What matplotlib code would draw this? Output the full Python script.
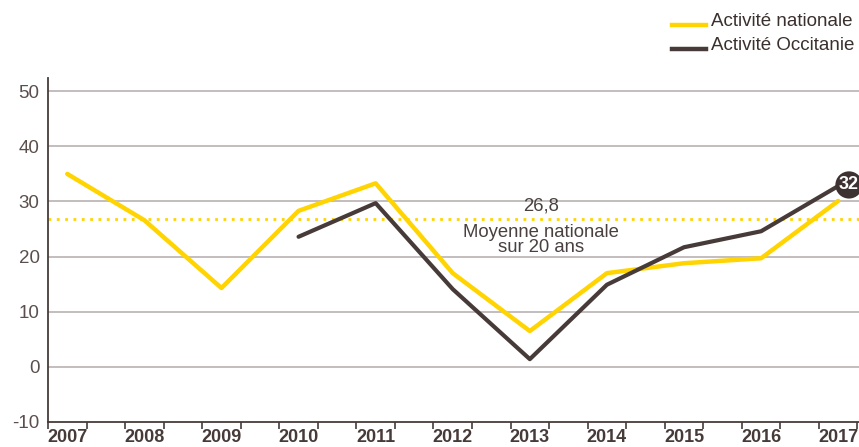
import numpy as np
import matplotlib.pyplot as plt
from matplotlib.ticker import FixedLocator

plt.rcParams['font.family'] = ['Liberation Sans', 'DejaVu Sans']

years = [2007, 2008, 2009, 2010, 2011, 2012, 2013, 2014, 2015, 2016, 2017]
nationale = [35.0, 26.6, 14.3, 28.3, 33.3, 17.0, 6.5, 17.0, 18.8, 19.7, 30.1]
occ_years = [2010, 2011, 2012, 2013, 2014, 2015, 2016, 2017]
occitanie = [23.6, 29.7, 14.1, 1.4, 14.9, 21.7, 24.6, 32.8]
moyenne = 26.8
yticks = [-10, 0, 10, 20, 30, 40, 50]

YELLOW = '#ffd400'
DARK = '#473b39'
GRID = '#b9b3b1'
TXT = '#5a4f4d'

fig = plt.figure(figsize=(8.59, 4.47), dpi=100)
ax = fig.add_axes([48/859, 1 - 422/447, 1 - 48/859, 344/447])

# grid lines
for v in yticks[1:]:
    ax.axhline(v, color=GRID, lw=1.2, zorder=1)

# moyenne nationale
ax.axhline(moyenne, color=YELLOW, lw=2, ls=(0, (1, 2)), zorder=2)
ax.text(2013.14, moyenne + 0.9, '26,8', ha='center', va='bottom', fontsize=13.3, color='#4a4040')
ax.text(2013.14, moyenne - 0.8, 'Moyenne nationale\nsur 20 ans', ha='center', va='top',
        fontsize=13.3, color='#4a4040', linespacing=0.92)

ax.plot(years, nationale, color=YELLOW, lw=3.2, solid_capstyle='round', zorder=3)
ax.plot(occ_years, occitanie, color=DARK, lw=3.0, solid_capstyle='round', zorder=4)

# last value badge
ax.text(2017.14, 33.0, '32', ha='center', va='center', fontsize=13, fontweight='bold',
        color='white', zorder=5, clip_on=False,
        bbox=dict(boxstyle='circle,pad=0.2', fc='#3d3231', ec='none'))

ax.set_xlim(2006.75, 2017.27)
ax.set_ylim(-10, 52.4)

ax.set_yticks(yticks)
ax.set_yticklabels([str(v) for v in yticks], fontsize=13.5, color=TXT)
ax.tick_params(axis='y', length=0, pad=6)

ax.set_xticks(years)
ax.set_xticklabels([str(y) for y in years], fontsize=13, fontweight='bold', color=DARK)
ax.xaxis.set_minor_locator(FixedLocator(np.arange(2006.75, 2017.3, 0.5)))
ax.tick_params(axis='x', which='major', length=0, pad=5)
ax.tick_params(axis='x', which='minor', length=5, width=1.2, color=DARK)

for s in ['top', 'right']:
    ax.spines[s].set_visible(False)
for s in ['left', 'bottom']:
    ax.spines[s].set_color(DARK)
    ax.spines[s].set_linewidth(1.3)

# legend drawn by hand in figure coords
fig.lines.append(plt.Line2D([672/859, 706/859], [1 - 25/447, 1 - 25/447], color=YELLOW, lw=3.2,
                            transform=fig.transFigure))
fig.lines.append(plt.Line2D([672/859, 706/859], [1 - 49/447, 1 - 49/447], color=DARK, lw=3.2,
                            transform=fig.transFigure))
fig.text(711/859, 1 - 21/447, 'Activité nationale', fontsize=13.5, color='#3a302e', va='center')
fig.text(711/859, 1 - 45/447, 'Activité Occitanie', fontsize=13.5, color='#3a302e', va='center')

fig.savefig('out.png', dpi=100)
